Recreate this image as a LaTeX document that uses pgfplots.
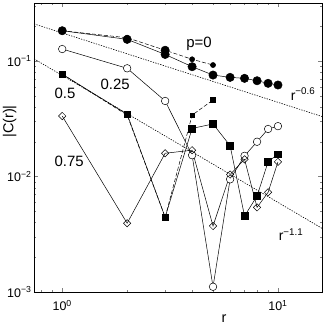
\documentclass[border=0pt]{standalone}
\usepackage{fontspec}
\setmainfont{Liberation Sans}
\usepackage{pgfplots}
\pgfplotsset{compat=1.18}
\begin{document}
\begin{tikzpicture}
\begin{loglogaxis}[
  scale only axis,
  width=288bp, height=289bp,
  xmin=0.74, xmax=16,
  ymin=1e-3, ymax=0.318,
  xtick={1,10},
  xticklabels={10\textsuperscript{0},10\textsuperscript{1}},
  ytick={0.001,0.01,0.1},
  yticklabels={10\textsuperscript{−3},10\textsuperscript{−2},10\textsuperscript{−1}},
  minor xtick={0.8,0.9,2,3,4,5,6,7,8,9,20},
  minor ytick={0.002,0.003,0.004,0.005,0.006,0.007,0.008,0.009,
               0.02,0.03,0.04,0.05,0.06,0.07,0.08,0.09,0.2,0.3},
  tick align=inside,
  major tick length=4bp, minor tick length=2.5bp,
  ticklabel style={font=\fontsize{12.5}{12.5}\selectfont},
  xticklabel style={yshift=-5bp},
  yticklabel style={xshift=1bp},
  xlabel={r}, ylabel={|C(r)|},
  xlabel style={font=\fontsize{14.5}{14.5}\selectfont, at={(rel axis cs:0.66,0)}, anchor=north, yshift=-19bp},
  ylabel style={font=\fontsize{14.5}{14.5}\selectfont, at={(rel axis cs:0,0.59)}, anchor=south, yshift=14bp},
  axis line style={line width=0.6pt},
  every axis plot/.append style={black, line width=0.5pt},
  clip=false,
]
% guide lines r^-0.6 and r^-1.1
\addplot[dash pattern=on 1.3bp off 1.3bp, line width=0.6pt, no marks] coordinates {(0.74,0.2097) (16,0.0331)};
\addplot[dash pattern=on 1.3bp off 1.3bp, line width=0.6pt, no marks] coordinates {(0.74,0.1045) (16,0.00356)};

% p = 0, dashed run
\addplot[dash pattern=on 4bp off 2bp, mark=*, mark size=2.6, mark options={solid}] coordinates {
  (1,0.183) (2,0.159) (3,0.124) (4,0.1035) (5,0.0923)
};
\addplot[only marks, mark=*, mark size=4.2] coordinates {(3,0.124)};
% p = 0, solid run
\addplot[mark=*, mark size=4.2] coordinates {
  (1,0.183) (2,0.154) (3,0.114) (4,0.0893) (5,0.0756)
  (6,0.0722) (7,0.0708) (8,0.0675) (9,0.0641) (10,0.0620)
};

% p = 0.25
\addplot[mark=*, mark size=3.8, mark options={fill=white}] coordinates {
  (1,0.127) (2,0.0865) (3,0.0451) (4,0.0153) (5,0.00111)
  (6,0.00946) (7,0.0151) (8,0.0200) (9,0.0258) (10,0.0273)
};

% p = 0.5, dashed run
\addplot[dash pattern=on 4bp off 2bp, mark=square*, mark size=2.3, mark options={solid}] coordinates {
  (1,0.077) (2,0.0340) (3,0.00444) (4,0.0340) (5,0.0460)
};
% p = 0.5, solid run
\addplot[mark=square*, mark size=3.4] coordinates {
  (1,0.077) (2,0.0346) (3,0.00444) (4,0.0261) (5,0.0285)
  (6,0.0185) (7,0.00455) (8,0.00678) (9,0.0134) (10,0.0156)
};

% p = 0.75
\addplot[mark=square, mark size=2.6, mark options={rotate=45, fill=white}] coordinates {
  (1,0.0334) (2,0.00394) (3,0.0159) (4,0.0169) (5,0.00373)
  (6,0.0104) (7,0.0141) (8,0.0054) (9,0.0073) (10,0.0134)
};

\node[font=\fontsize{15}{15}\selectfont] at (axis cs:4.31,0.140) {p=0};
\node[font=\fontsize{15}{15}\selectfont] at (axis cs:1.76,0.0626) {0.25};
\node[font=\fontsize{15}{15}\selectfont] at (axis cs:1.03,0.0528) {0.5};
\node[font=\fontsize{15}{15}\selectfont] at (axis cs:1.077,0.0134) {0.75};
\node[font=\fontsize{14}{14}\selectfont] at (axis cs:13.06,0.0518) {r\textsuperscript{−0.6}};
\node[font=\fontsize{14}{14}\selectfont] at (axis cs:11.5,0.00312) {r\textsuperscript{−1.1}};
\end{loglogaxis}
\pgfresetboundingbox
\path ([shift={(-34bp,-37bp)}]current axis.south west) rectangle ([shift={(5bp,3bp)}]current axis.north east);
\end{tikzpicture}
\end{document}
